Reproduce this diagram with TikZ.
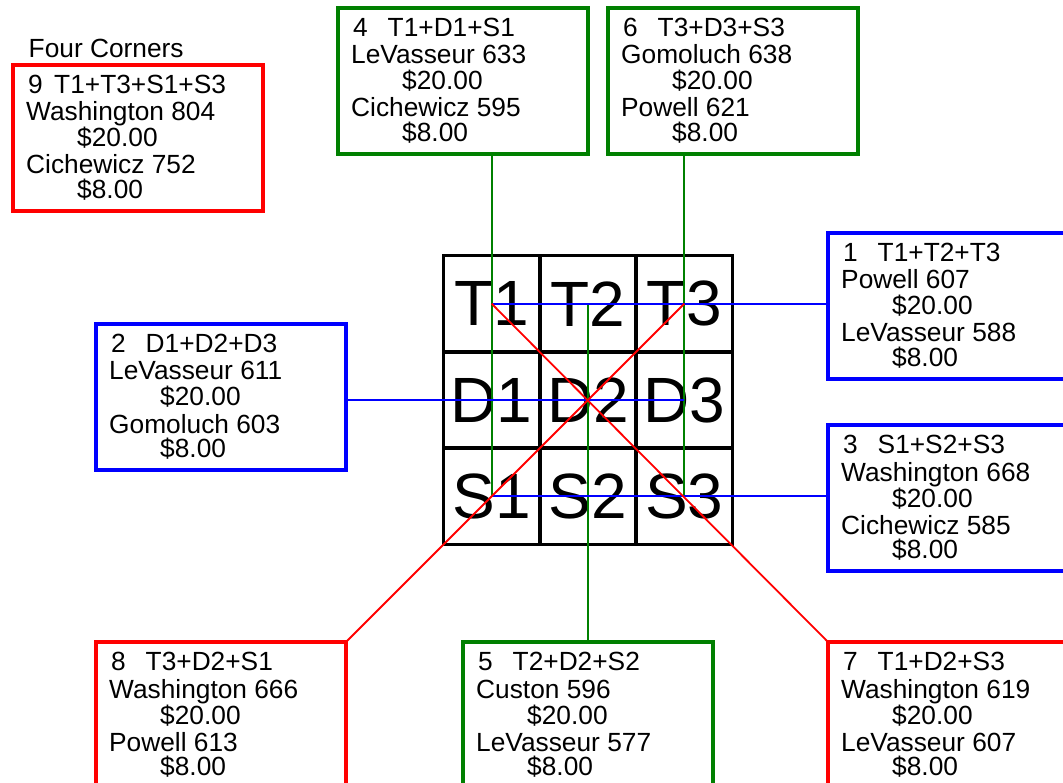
\documentclass[tikz,border=0pt]{standalone}
\usepackage{fontspec}
\setmainfont{Liberation Sans}
\definecolor{cred}{RGB}{255,0,0}
\definecolor{cblue}{RGB}{0,0,255}
\definecolor{cgreen}{RGB}{0,128,0}
\tikzset{
  infobox/.style={draw, line width=3.5pt, rectangle, minimum width=250pt,
    minimum height=146pt, inner sep=0pt, outer sep=0pt, anchor=north west},
  txt/.style={anchor=base west, inner sep=0pt, font=\fontsize{26.3}{26}\selectfont},
  cell/.style={draw=black, line width=3.5pt, rectangle, minimum width=96.33pt,
    minimum height=96.33pt, inner sep=0pt, outer sep=0pt, anchor=north west,
    font=\fontsize{64}{64}\selectfont},
  conn/.style={line width=1.8pt},
}
\def\cshift{49.5}
\newcommand\infobox[8]{%
  \node[infobox, draw=#4] (#1) at (#2,#3) {};
  \node[txt] (#1n) at ([xshift=15pt,yshift=-28.5pt]#1.north west) {#5};
  \node[txt] (#1c) at ([xshift=\cshift pt,yshift=-28.5pt]#1.north west) {#6};
  \node[txt] (#1p) at ([xshift=13pt,yshift=-56pt]#1.north west) {#7};
  \node[txt] (#1m) at ([xshift=64pt,yshift=-82pt]#1.north west) {\$20.00};
  \node[txt] (#1q) at ([xshift=13pt,yshift=-109pt]#1.north west) {#8};
  \node[txt] (#1r) at ([xshift=64pt,yshift=-133.5pt]#1.north west) {\$8.00};
}
\begin{document}
\begin{tikzpicture}[x=1pt,y=-1pt]
\useasboundingbox (0,0) rectangle (1063,783);
\clip (0,0) rectangle (1063,783);
% grid
\foreach \r/\rn in {T/0,D/1,S/2}{
  \foreach \c in {1,2,3}{
    \node[cell] (\r\c) at ({443.5+96.33*(\c-1)},{255.5+96.33*\rn}) {\r\c};
  }
}
% boxes
\def\cshift{41}
\infobox{b9}{13}{65}{cred}{9}{T1+T3+S1+S3}{Washington 804}{Cichewicz 752}
\def\cshift{49.5}
\infobox{b4}{338}{8}{cgreen}{4}{T1+D1+S1}{LeVasseur 633}{Cichewicz 595}
\infobox{b6}{608}{8}{cgreen}{6}{T3+D3+S3}{Gomoluch 638}{Powell 621}
\infobox{b1}{828}{233}{cblue}{1}{T1+T2+T3}{Powell 607}{LeVasseur 588}
\infobox{b2}{96}{324}{cblue}{2}{D1+D2+D3}{LeVasseur 611}{Gomoluch 603}
\infobox{b3}{828}{425}{cblue}{3}{S1+S2+S3}{Washington 668}{Cichewicz 585}
\infobox{b8}{96}{642}{cred}{8}{T3+D2+S1}{Washington 666}{Powell 613}
\infobox{b5}{463}{642}{cgreen}{5}{T2+D2+S2}{Custon 596}{LeVasseur 577}
\infobox{b7}{828}{642}{cred}{7}{T1+D2+S3}{Washington 619}{LeVasseur 607}
\node[txt] (fc) at (28.5,58) {Four Corners};
% connectors
\draw[conn, cgreen] (T1.center |- b4.south) -- (S1.center);
\draw[conn, cgreen] (T3.center |- b6.south) -- (S3.center);
\draw[conn, cgreen] (T2.center |- b5.north) -- (T2.center);
\draw[conn, cblue] (T1.center -| b1.west) -- (T1.center);
\draw[conn, cblue] (D1.center -| b2.east) -- (D3.center);
\draw[conn, cblue] (S1.center -| b3.west) -- (S1.center);
\draw[conn, cred] (T1.center) -- (b7.north west);
\draw[conn, cred] (T3.center) -- (b8.north east);
\end{tikzpicture}
\end{document}
